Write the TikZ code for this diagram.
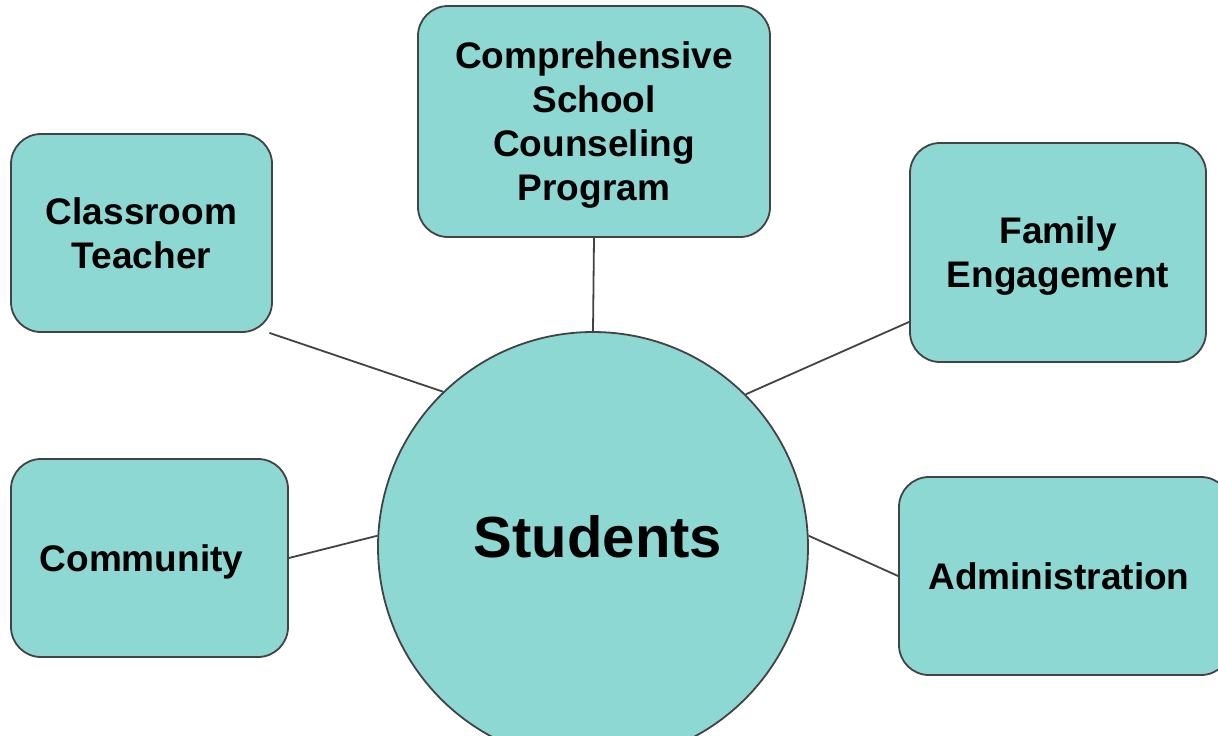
\documentclass[tikz,border=0pt]{standalone}
\usepackage{fontspec}
\setmainfont{Liberation Sans}

\definecolor{tealfill}{HTML}{8DD8D2}
\definecolor{edgegray}{HTML}{434343}

\begin{document}
\begin{tikzpicture}[
    x=1pt,
    y=-1pt,
    topic/.style = {
        draw=edgegray,
        line width=1.8pt,
        fill=tealfill,
        rectangle,
        rounded corners=30pt,
        inner sep=0pt,
        align=center,
        text depth=0pt,
        font=\bfseries\fontsize{37}{44}\selectfont
    },
    topictext/.style = {
        text depth=0pt,
        font=\bfseries\fontsize{37}{44}\selectfont
    },
    hub/.style = {
        draw=edgegray,
        line width=1.8pt,
        fill=tealfill,
        circle,
        inner sep=0pt,
        minimum size=430pt
    },
    hubtext/.style = {
        font=\bfseries\fontsize{58}{66}\selectfont
    },
    link/.style = {
        draw=edgegray,
        line width=1.8pt
    },
]
    \useasboundingbox (0,0) rectangle (1218,736);

    % Centre
    \node [hub, label={[hubtext,xshift=5pt,yshift=10pt]center:Students}]
        (students) at (593,547) {};

    % Surrounding partners
    \node [topic, minimum width=352pt, minimum height=231pt]
        (counseling) at (594,121.5) {Comprehensive\\ School\\ Counseling\\ Program};
    \node [topic, minimum width=261pt, minimum height=198pt]
        (teacher) at (141.5,233) {Classroom\\ Teacher};
    \node [topic, minimum width=296pt, minimum height=219pt]
        (family) at (1058,252.5) {Family\\ Engagement};
    \node [topic, minimum width=277pt, minimum height=198pt,
        label={[topictext,xshift=-8pt]center:Community}]
        (community) at (149.5,558) {};
    \node [topic, minimum width=332pt, minimum height=198pt,
        label={[topictext,xshift=-6pt]center:Administration}]
        (admin) at (1065,576) {};

    \draw [link] (counseling.south) -- (students.north);
    \draw [link] (teacher.-38) -- (students.134);
    \draw [link] (family.205) -- (students.45);
    \draw [link] (community.east) -- (students.177);
    \draw [link] (admin.west) -- (students.3);
\end{tikzpicture}
\end{document}
